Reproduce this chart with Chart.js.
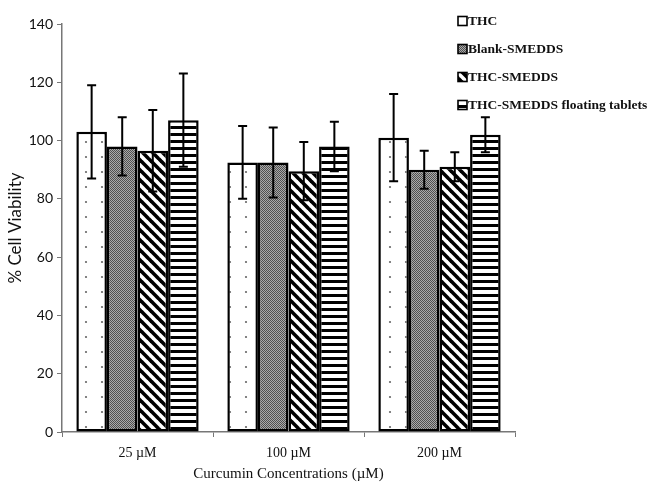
<!DOCTYPE html>
<html lang="en">
<head>
    <meta charset="UTF-8">
    <title>Cell Viability</title>
    <script src="https://cdn.jsdelivr.net/npm/chart.js"></script>
    <style>
        html, body { margin: 0; padding: 0; background: #fff; }
        #wrap { width: 651px; height: 482px; }
    </style>
</head>
<body>
    <div id="wrap"><canvas id="viabilityChart"></canvas></div>

    <script>
        // Data
        const concentrations = ['25 µM', '100 µM', '200 µM'];
        const seriesNames = ['THC', 'Blank-SMEDDS', 'THC-SMEDDS', 'THC-SMEDDS floating tablets'];
        const thcMean = [103, 92.5, 101];
        const thcErr = [16, 12.5, 15];
        const blankMean = [98, 92.5, 90];
        const blankErr = [10, 12, 6.5];
        const smeddsMean = [96.5, 89.5, 91];
        const smeddsErr = [14, 10, 5];
        const floatingMean = [107, 98, 102];
        const floatingErr = [16, 8.5, 6];
        const yTicks = [0, 20, 40, 60, 80, 100, 120, 140];

        // Fill patterns
        function makePattern(w, h, draw) {
            const c = document.createElement('canvas');
            c.width = w; c.height = h;
            const g = c.getContext('2d');
            g.fillStyle = '#fff';
            g.fillRect(0, 0, w, h);
            draw(g);
            return g.createPattern(c, 'repeat');
        }
        const ctxMain = document.getElementById('viabilityChart').getContext('2d');

        const dotPattern = makePattern(16, 15, g => {
            g.fillStyle = '#666';
            g.beginPath();
            g.arc(6, 7, 1.1, 0, Math.PI * 2);
            g.fill();
        });
        const grayPattern = makePattern(2, 2, g => {
            g.fillStyle = '#505050';
            g.fillRect(0, 0, 1, 1);
            g.fillRect(1, 1, 1, 1);
            g.fillStyle = '#aaaaaa';
            g.fillRect(1, 0, 1, 1);
            g.fillRect(0, 1, 1, 1);
        });
        const diagPattern = makePattern(10, 10, g => {
            g.strokeStyle = '#000';
            g.lineWidth = 3.6;
            for (let k = -1; k <= 1; k++) {
                g.beginPath();
                g.moveTo(k * 10 - 1, -1);
                g.lineTo(k * 10 + 11, 11);
                g.stroke();
            }
        });
        const stripePattern = makePattern(7, 7, g => {
            g.fillStyle = '#000';
            g.fillRect(0, 0, 7, 3);
        });

        const fills = [dotPattern, grayPattern, diagPattern, stripePattern];
        const means = [thcMean, blankMean, smeddsMean, floatingMean];
        const errs = [thcErr, blankErr, smeddsErr, floatingErr];

        const datasets = seriesNames.map((name, i) => ({
            label: name,
            data: means[i],
            errors: errs[i],
            backgroundColor: fills[i],
            borderColor: '#000',
            borderWidth: 2.5,
            borderSkipped: false,
            barPercentage: 1.0,
            categoryPercentage: 0.81
        }));

        // Error bars via the y scale
        const errorBars = {
            id: 'errorBars',
            afterDatasetsDraw(chart) {
                const c = chart.ctx;
                const y = chart.scales.y;
                c.save();
                c.strokeStyle = '#000';
                c.lineWidth = 2;
                chart.data.datasets.forEach((ds, i) => {
                    chart.getDatasetMeta(i).data.forEach((bar, j) => {
                        const top = y.getPixelForValue(ds.data[j] + ds.errors[j]);
                        const bot = y.getPixelForValue(ds.data[j] - ds.errors[j]);
                        c.beginPath();
                        c.moveTo(bar.x, top); c.lineTo(bar.x, bot);
                        c.moveTo(bar.x - 4.5, top); c.lineTo(bar.x + 4.5, top);
                        c.moveTo(bar.x - 4.5, bot); c.lineTo(bar.x + 4.5, bot);
                        c.stroke();
                    });
                });
                c.restore();
            }
        };

        // Legend in the upper right, as in the original figure
        const sideLegend = {
            id: 'sideLegend',
            afterDraw(chart) {
                const c = chart.ctx;
                c.save();
                c.font = 'bold 13.5px "Liberation Serif"';
                c.textBaseline = 'middle';
                chart.data.datasets.forEach((ds, i) => {
                    const yy = 21 + i * 28;
                    c.fillStyle = ds.backgroundColor;
                    c.fillRect(458, yy - 4.5, 9, 9);
                    c.strokeStyle = '#000';
                    c.lineWidth = 1.6;
                    c.strokeRect(458, yy - 4.5, 9, 9);
                    c.fillStyle = '#111';
                    c.fillText(ds.label, 468, yy + 0.5);
                });
                c.restore();
            }
        };

        new Chart(ctxMain, {
            type: 'bar',
            data: { labels: concentrations, datasets: datasets },
            options: {
                responsive: true,
                maintainAspectRatio: false,
                animation: false,
                layout: { padding: { top: 24, right: 136, left: 0, bottom: 0 } },
                plugins: {
                    legend: { display: false },
                    tooltip: { enabled: false }
                },
                scales: {
                    x: {
                        grid: {
                            display: true,
                            offset: true,
                            drawOnChartArea: false,
                            drawTicks: true,
                            tickLength: 5,
                            color: '#777'
                        },
                        border: { color: '#777', width: 1.5 },
                        ticks: {
                            color: '#111',
                            padding: 8,
                            font: { family: 'Liberation Serif', size: 14 }
                        },
                        title: {
                            display: true,
                            text: 'Curcumin Concentrations (µM)',
                            color: '#111',
                            font: { family: 'Liberation Serif', size: 15, lineHeight: 1 },
                            padding: { top: 0, bottom: 0 }
                        },
                        afterFit(scale) { scale.height = 50; }
                    },
                    y: {
                        min: 0,
                        max: 140,
                        afterBuildTicks(scale) {
                            scale.ticks = yTicks.map(v => ({ value: v }));
                        },
                        grid: {
                            display: true,
                            drawOnChartArea: false,
                            drawTicks: true,
                            tickLength: 5,
                            color: '#777'
                        },
                        border: { color: '#777', width: 1.5 },
                        ticks: {
                            color: '#111',
                            padding: 4,
                            font: { family: 'Lato', size: 14 }
                        },
                        title: {
                            display: true,
                            text: '% Cell Viability',
                            color: '#111',
                            font: { family: 'Lato', size: 17, lineHeight: 1 },
                            padding: { top: 7, bottom: 0 }
                        },
                        afterFit(scale) { scale.width = 62; }
                    }
                }
            },
            plugins: [errorBars, sideLegend]
        });
    </script>
</body>
</html>
